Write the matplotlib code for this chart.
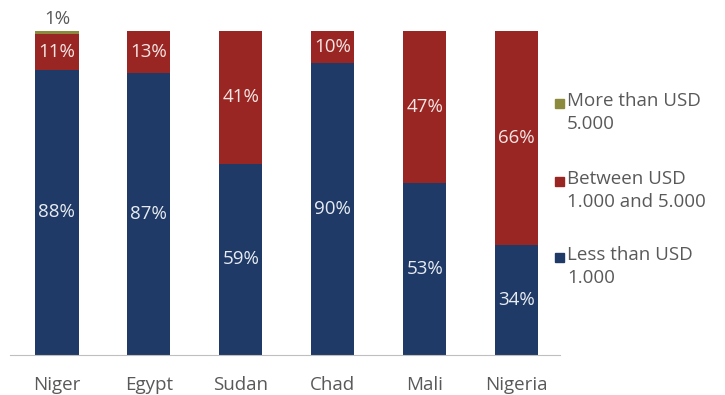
import matplotlib.pyplot as plt
from matplotlib.patches import Rectangle

countries = ['Niger', 'Egypt', 'Sudan', 'Chad', 'Mali', 'Nigeria']
less_1000 = [88, 87, 59, 90, 53, 34]
between_1000_5000 = [11, 13, 41, 10, 47, 66]
more_5000 = [1, 0, 0, 0, 0, 0]

series_labels = ['More than USD\n5.000', 'Between USD\n1.000 and 5.000', 'Less than USD\n1.000']
colors = {'less': '#1f3a66', 'between': '#9a2624', 'more': '#8c8a3c'}
text_gray = '#595959'

plt.rcParams['font.family'] = ['Open Sans', 'DejaVu Sans']

fig = plt.figure(figsize=(7.25, 3.95), dpi=100)
W, H = 725, 395
ax = fig.add_axes([10 / W, 40 / H, 550 / W, 324 / H])

x = list(range(len(countries)))
width = 0.47

ax.bar(x, less_1000, width, color=colors['less'])
ax.bar(x, between_1000_5000, width, bottom=less_1000, color=colors['between'])
tops = [a + b for a, b in zip(less_1000, between_1000_5000)]
ax.bar(x, more_5000, width, bottom=tops, color=colors['more'])

# data labels
for i in x:
    ax.text(i, less_1000[i] / 2, f'{less_1000[i]}%', ha='center', va='center',
            color='#e8ecf2', fontsize=13.5)
    ax.text(i, less_1000[i] + between_1000_5000[i] / 2, f'{between_1000_5000[i]}%',
            ha='center', va='center', color='#f5e6e3', fontsize=13.5)
    if more_5000[i] > 0:
        ax.text(i, tops[i] + more_5000[i] + 1, f'{more_5000[i]}%', ha='center', va='bottom',
                color=text_gray, fontsize=13.5)

ax.set_xlim(-0.51, 5.47)
ax.set_ylim(0, 100)
ax.set_xticks(x)
ax.set_xticklabels(countries, fontsize=13.5, color=text_gray)
ax.tick_params(axis='x', length=0, pad=15)
ax.set_yticks([])
for s in ['top', 'left', 'right']:
    ax.spines[s].set_visible(False)
ax.spines['bottom'].set_color('#bfbfbf')

# legend drawn by hand so the marker sits on the first line
legend_colors = [colors['more'], colors['between'], colors['less']]
legend_y = [103, 181, 257]
for lab, c, y in zip(series_labels, legend_colors, legend_y):
    fig.patches.append(Rectangle((555 / W, 1 - (y + 5) / H), 9 / W, 9 / H,
                                 transform=fig.transFigure, color=c))
    fig.text(567 / W, 1 - (y - 11) / H, lab, ha='left', va='top', fontsize=13.5,
             color=text_gray, linespacing=1.35)

fig.savefig('out.png', dpi=100)
